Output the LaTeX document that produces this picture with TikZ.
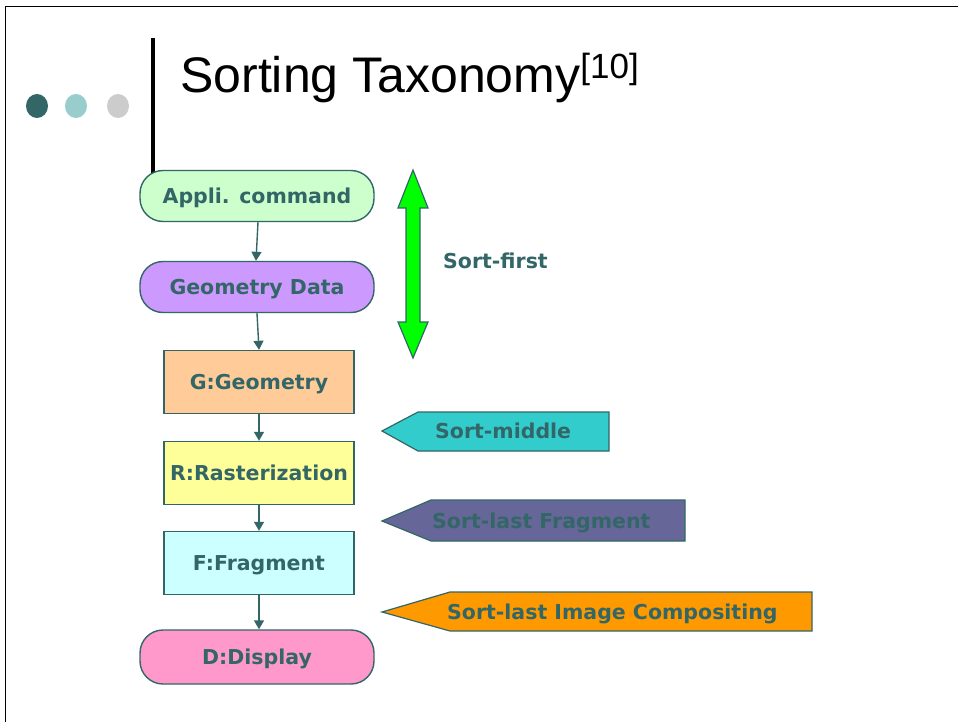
\documentclass[tikz,border=0pt]{standalone}
\usepackage{fontspec}
\setmainfont{Liberation Sans}
\newfontfamily\boxfont{DejaVu Sans}
\usetikzlibrary{arrows.meta}
\definecolor{ink}{HTML}{336666}
\definecolor{dotA}{HTML}{336666}
\definecolor{dotB}{HTML}{99CCCC}
\definecolor{dotC}{HTML}{CCCCCC}
\definecolor{fillAppli}{HTML}{CCFFCC}
\definecolor{fillGeoData}{HTML}{CC99FF}
\definecolor{fillGeom}{HTML}{FFCC99}
\definecolor{fillRast}{HTML}{FFFF99}
\definecolor{fillFrag}{HTML}{CCFFFF}
\definecolor{fillDisp}{HTML}{FF99CC}
\definecolor{fillFirst}{HTML}{00FF00}
\definecolor{fillMiddle}{HTML}{33CCCC}
\definecolor{fillLastFrag}{HTML}{666699}
\definecolor{fillLastImg}{HTML}{FF9900}
\tikzset{
  lbl/.style={font=\boxfont\bfseries\fontsize{20.5}{22}\selectfont, text=ink,
    text height=15pt, text depth=0pt},
  stadium/.style={lbl, draw=ink, line width=1.4pt, rounded corners=23pt,
    minimum width=234pt, minimum height=51pt, inner sep=0pt},
  stagebox/.style={lbl, draw=ink, line width=1.4pt,
    minimum width=190pt, minimum height=63pt, inner sep=0pt},
  flow/.style={draw=ink, line width=1.4pt, -{Triangle[length=9pt,width=10pt]}},
  tag/.style={draw=ink, line width=1.2pt, line join=miter},
}
\begin{document}
\begin{tikzpicture}[x=1pt,y=-1pt]
\useasboundingbox (0,0) rectangle (958,722);
\fill[white] (0,0) rectangle (958,722);

% slide frame
\draw[black, line width=1.5pt] (5.5,722) -- (5.5,6.5) -- (958,6.5);

% title decoration
\fill[dotA] (37,106) ellipse (11pt and 12pt);
\fill[dotB] (76,106) ellipse (11pt and 12pt);
\fill[dotC] (118,106) ellipse (11pt and 12pt);
\fill[black] (150.5,38) rectangle (154.5,176);

\node[anchor=base west, inner sep=0pt, font=\fontsize{50}{52}\selectfont]
  (title) at (180,93) {Sorting Taxonomy\raisebox{14pt}{\fontsize{35}{36}\selectfont[10]}};

% pipeline
\node[stadium, fill=fillAppli]   (appli) at (257,196) {Appli. command};
\node[stadium, fill=fillGeoData] (gdata) at (257,287) {Geometry Data};
\node[stagebox, fill=fillGeom]   (geom)  at (259,382) {G:Geometry};
\node[stagebox, fill=fillRast]   (rast)  at (259,473) {R:Rasterization};
\node[stagebox, fill=fillFrag]   (frag)  at (259,563) {F:Fragment};
\node[stadium, fill=fillDisp, minimum height=54pt] (disp) at (257,657) {D:Display};

\draw[flow] ([xshift=1pt]appli.south) -- ([xshift=-1pt]gdata.north);
\draw[flow] (gdata.south) -- (geom.north);
\draw[flow] (geom.south) -- (rast.north);
\draw[flow] (rast.south) -- (frag.north);
\draw[flow] (frag.south) -- ([xshift=2pt]disp.north);

% sort-first range
\draw[tag, fill=fillFirst] (413,170) -- (428,208) -- (420,208) -- (420,322)
  -- (428,322) -- (413,358) -- (398,322) -- (406,322) -- (406,208)
  -- (398,208) -- cycle;
\node[lbl, anchor=west, inner sep=0pt] (first) at (443,261) {Sort-first};

% sort-middle / sort-last tags
\draw[tag, fill=fillMiddle] (382,431) -- (418,412) -- (609,412) -- (609,451) -- (418,451) -- cycle;
\node[lbl, anchor=west, inner sep=0pt] (middle) at (435,431) {Sort-middle};

\draw[tag, fill=fillLastFrag] (382,521) -- (431,500) -- (685,500) -- (685,541) -- (431,541) -- cycle;
\node[lbl, anchor=west, inner sep=0pt] (lastfrag) at (432,521) {Sort-last Fragment};

\draw[tag, fill=fillLastImg] (382,612) -- (450,592) -- (812,592) -- (812,631) -- (450,631) -- cycle;
\node[lbl, anchor=west, inner sep=0pt] (lastimg) at (447,612) {Sort-last Image Compositing};
\end{tikzpicture}
\end{document}
